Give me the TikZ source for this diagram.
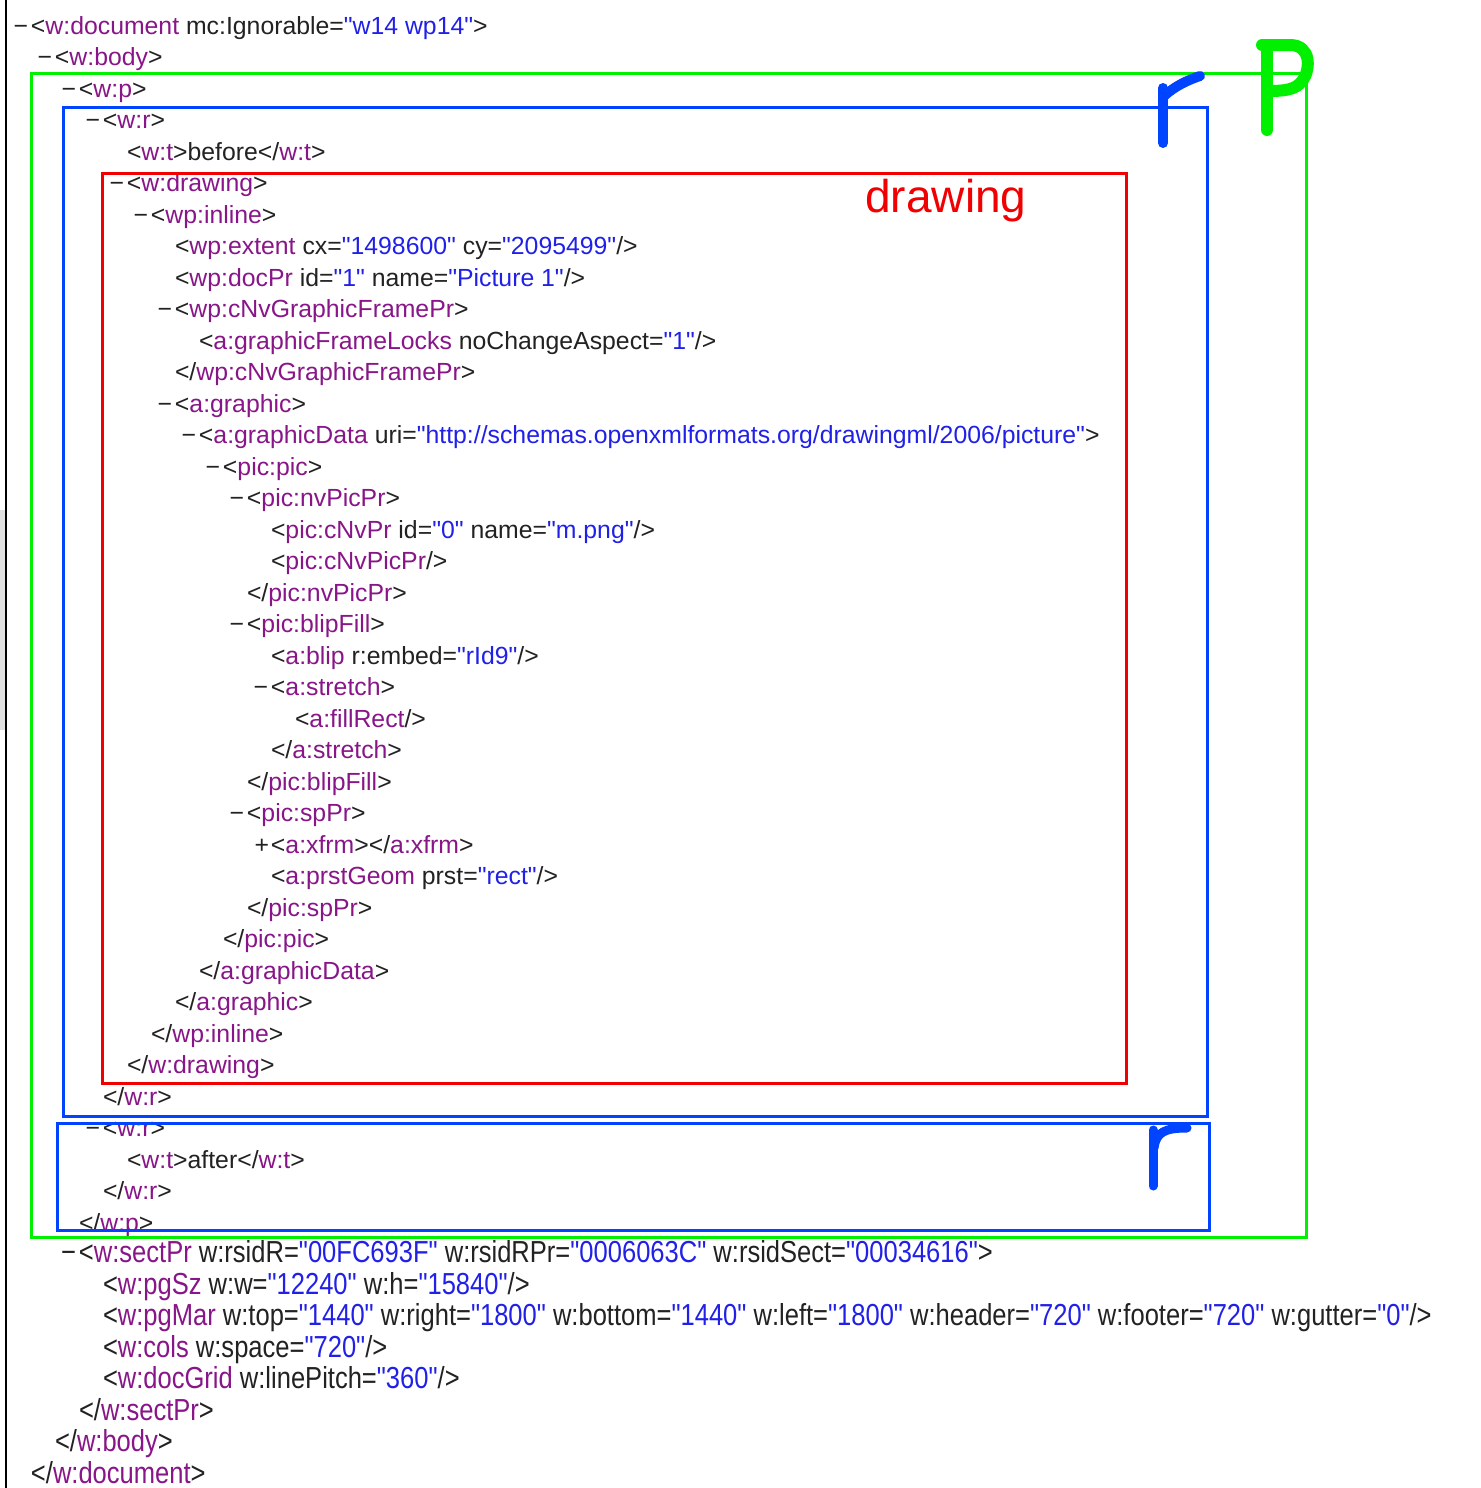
\documentclass[tikz,border=0pt]{standalone}
\usepackage{fontspec}
\newfontfamily\mainf{Liberation Sans}
\newfontfamily\narrowf[FakeStretch=0.84]{Liberation Sans}
\definecolor{tagc}{RGB}{136,22,136}
\definecolor{valc}{RGB}{32,32,232}
\definecolor{txtc}{RGB}{34,34,34}
\definecolor{gbox}{RGB}{0,240,0}
\definecolor{bbox}{RGB}{0,68,255}
\definecolor{rbox}{RGB}{240,0,0}
\newcommand\tg[1]{\textcolor{tagc}{#1}}
\newcommand\vl[1]{\textcolor{valc}{#1}}
\newcommand\mn{\llap{−\kern1.5pt}}
\newcommand\pl{\llap{+\kern1pt}}
\tikzset{
  ln/.style={anchor=base west, inner sep=0pt, outer sep=0pt, text=txtc, font=\mainf\fontsize{12.4}{14}\selectfont},
  lnn/.style={ln, font=\narrowf\fontsize{15.2}{17}\selectfont},
  frame/.style={line width=1.5pt},
  hand/.style={line width=5pt, line cap=round, line join=round},
}
\newcommand\Ln[5][ln]{\node[#1] (l#2) at ({31+24*#3},{34+31.5*(#2-1)}) {#4#5};}
\begin{document}
\begin{tikzpicture}[x=0.5pt,y=-0.5pt]
\useasboundingbox (0,0) rectangle (1480,1488);
\fill[white] (0,0) rectangle (1480,1488);
\fill[black!12] (0,510) rectangle (5,730);
\draw[line width=1pt] (6,0) -- (6,1488);
% text lines
\Ln{1}{0}{\mn}{<\tg{w:document} mc:Ignorable=\vl{"w14 wp14"}>}
\Ln{2}{1}{\mn}{<\tg{w:body}>}
\Ln{3}{2}{\mn}{<\tg{w:p}>}
\Ln{4}{3}{\mn}{<\tg{w:r}>}
\Ln{5}{4}{}{<\tg{w:t}>before</\tg{w:t}>}
\Ln{6}{4}{\mn}{<\tg{w:drawing}>}
\Ln{7}{5}{\mn}{<\tg{wp:inline}>}
\Ln{8}{6}{}{<\tg{wp:extent} cx=\vl{"1498600"} cy=\vl{"2095499"}/>}
\Ln{9}{6}{}{<\tg{wp:docPr} id=\vl{"1"} name=\vl{"Picture 1"}/>}
\Ln{10}{6}{\mn}{<\tg{wp:cNvGraphicFramePr}>}
\Ln{11}{7}{}{<\tg{a:graphicFrameLocks} noChangeAspect=\vl{"1"}/>}
\Ln{12}{6}{}{</\tg{wp:cNvGraphicFramePr}>}
\Ln{13}{6}{\mn}{<\tg{a:graphic}>}
\Ln{14}{7}{\mn}{<\tg{a:graphicData} uri=\vl{"http://schemas.openxmlformats.org/drawingml/2006/picture"}>}
\Ln{15}{8}{\mn}{<\tg{pic:pic}>}
\Ln{16}{9}{\mn}{<\tg{pic:nvPicPr}>}
\Ln{17}{10}{}{<\tg{pic:cNvPr} id=\vl{"0"} name=\vl{"m.png"}/>}
\Ln{18}{10}{}{<\tg{pic:cNvPicPr}/>}
\Ln{19}{9}{}{</\tg{pic:nvPicPr}>}
\Ln{20}{9}{\mn}{<\tg{pic:blipFill}>}
\Ln{21}{10}{}{<\tg{a:blip} r:embed=\vl{"rId9"}/>}
\Ln{22}{10}{\mn}{<\tg{a:stretch}>}
\Ln{23}{11}{}{<\tg{a:fillRect}/>}
\Ln{24}{10}{}{</\tg{a:stretch}>}
\Ln{25}{9}{}{</\tg{pic:blipFill}>}
\Ln{26}{9}{\mn}{<\tg{pic:spPr}>}
\Ln{27}{10}{\pl}{<\tg{a:xfrm}></\tg{a:xfrm}>}
\Ln{28}{10}{}{<\tg{a:prstGeom} prst=\vl{"rect"}/>}
\Ln{29}{9}{}{</\tg{pic:spPr}>}
\Ln{30}{8}{}{</\tg{pic:pic}>}
\Ln{31}{7}{}{</\tg{a:graphicData}>}
\Ln{32}{6}{}{</\tg{a:graphic}>}
\Ln{33}{5}{}{</\tg{wp:inline}>}
\Ln{34}{4}{}{</\tg{w:drawing}>}
\Ln{35}{3}{}{</\tg{w:r}>}
\Ln{36}{3}{\mn}{<\tg{w:r}>}
\Ln{37}{4}{}{<\tg{w:t}>after</\tg{w:t}>}
\Ln{38}{3}{}{</\tg{w:r}>}
\Ln{39}{2}{}{</\tg{w:p}>}
\Ln[lnn]{40}{2}{\mn}{<\tg{w:sectPr} w:rsidR=\vl{"00FC693F"} w:rsidRPr=\vl{"0006063C"} w:rsidSect=\vl{"00034616"}>}
\Ln[lnn]{41}{3}{}{<\tg{w:pgSz} w:w=\vl{"12240"} w:h=\vl{"15840"}/>}
\Ln[lnn]{42}{3}{}{<\tg{w:pgMar} w:top=\vl{"1440"} w:right=\vl{"1800"} w:bottom=\vl{"1440"} w:left=\vl{"1800"} w:header=\vl{"720"} w:footer=\vl{"720"} w:gutter=\vl{"0"}/>}
\Ln[lnn]{43}{3}{}{<\tg{w:cols} w:space=\vl{"720"}/>}
\Ln[lnn]{44}{3}{}{<\tg{w:docGrid} w:linePitch=\vl{"360"}/>}
\Ln[lnn]{45}{2}{}{</\tg{w:sectPr}>}
\Ln[lnn]{46}{1}{}{</\tg{w:body}>}
\Ln[lnn]{47}{0}{}{</\tg{w:document}>}
% frames
\draw[frame, gbox] (31,73) rectangle (1306,1237);
\draw[frame, bbox] (63,107) rectangle (1207,1116);
\draw[frame, rbox] (102,173) rectangle (1126,1083);
\draw[frame, bbox] (57,1123) rectangle (1209,1230);
% label
\node[anchor=base west, inner sep=0pt, text=rbox, font=\mainf\fontsize{23}{25}\selectfont] (lbl) at (865,212) {drawing};
% handwritten letters
\draw[hand, bbox] (1163,88) -- (1163,143);
\draw[hand, bbox] (1164,96) .. controls (1175,86) and (1188,80) .. (1200,76);
\draw[hand, gbox, line width=6pt] (1267,47) -- (1267,130);
\draw[hand, gbox, line width=6pt] (1262,45) -- (1290,45) .. controls (1312,45) and (1310,70) .. (1303,80) .. controls (1296,90) and (1285,91) .. (1267,91);
\draw[hand, bbox, line width=4.5pt] (1153,1130) -- (1153,1186);
\draw[hand, bbox, line width=4.5pt] (1154,1148) .. controls (1156,1132) and (1165,1128) .. (1187,1128);
\end{tikzpicture}
\end{document}
